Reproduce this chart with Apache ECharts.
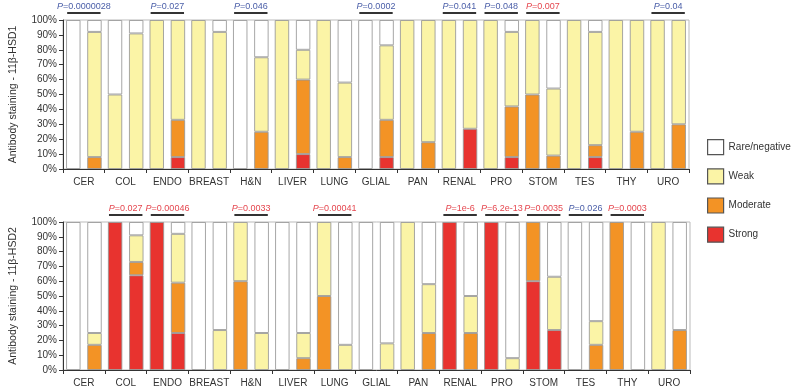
<!DOCTYPE html>
<html>
<head>
<meta charset="utf-8">
<script src="https://cdn.jsdelivr.net/npm/echarts@6/dist/echarts.min.js"></script>
<style>
html,body{margin:0;padding:0;background:#fff;}
#c{width:791px;height:388px;}
</style>
</head>
<body>
<div id="c"></div>
<script>
// ---------- DATA ----------
var categories = ['CER','COL','ENDO','BREAST','H&N','LIVER','LUNG','GLIAL','PAN','RENAL','PRO','STOM','TES','THY','URO'];
var yTicks = [0,10,20,30,40,50,60,70,80,90,100];

// 11β-HSD1 – first bar of each pair
var h1aStrong   = [0,0,0,0,0,0,0,0,0,0,0,0,0,0,0];
var h1aModerate = [0,0,0,0,0,0,0,0,0,0,0,50,0,0,0];
var h1aWeak     = [0,50,100,100,0,100,100,0,100,100,100,50,100,100,100];
var h1aRare     = [100,50,0,0,100,0,0,100,0,0,0,0,0,0,0];
// 11β-HSD1 – second bar of each pair
var h1bStrong   = [0,0,8,0,0,10,0,8,0,27,8,0,8,0,0];
var h1bModerate = [8,0,25,0,25,50,8,25,18,0,34,9,8,25,30];
var h1bWeak     = [84,91,67,92,50,20,50,50,82,73,50,45,76,75,70];
var h1bRare     = [8,9,0,8,25,20,42,17,0,0,8,46,8,0,0];

// 11β-HSD2 – first bar of each pair
var h2aStrong   = [0,100,100,0,0,0,0,0,0,100,100,60,0,0,0];
var h2aModerate = [0,0,0,0,60,0,50,0,0,0,0,40,0,100,0];
var h2aWeak     = [0,0,0,0,40,0,50,0,100,0,0,0,0,0,100];
var h2aRare     = [100,0,0,100,0,100,0,100,0,0,0,0,100,0,0];
// 11β-HSD2 – second bar of each pair
var h2bStrong   = [0,64,25,0,0,0,0,0,0,0,0,27,0,0,0];
var h2bModerate = [17,9,34,0,0,8,0,0,25,25,0,0,17,0,27];
var h2bWeak     = [8,18,33,27,25,17,17,18,33,25,8,36,16,0,0];
var h2bRare     = [75,9,8,73,75,75,83,82,42,50,92,37,67,100,73];

// P values (sign: '-' lower / '+' higher)
var p1Cats = ['CER','ENDO','H&N','GLIAL','RENAL','PRO','STOM','URO'];
var p1Text = ['0.0000028','0.027','0.046','0.0002','0.041','0.048','0.007','0.04'];
var p1Sign = ['-','-','-','-','-','-','+','-'];
var p2Cats = ['COL','ENDO','H&N','LUNG','RENAL','PRO','STOM','TES','THY'];
var p2Text = ['0.027','0.00046','0.0033','0.00041','1e-6','6.2e-13','0.0035','0.026','0.0003'];
var p2Sign = ['+','+','+','+','+','+','+','-','+'];

var levelNames = ['Rare/negative','Weak','Moderate','Strong'];

// ---------- STYLE ----------
var COLORS = {'Strong':'#e8332f','Moderate':'#f39325','Weak':'#fbf4a6','Rare/negative':'#ffffff'};
var SIGN_COLOR = {'-':'#4a5ea8','+':'#e5474f'};
var FONT = 'Liberation Sans, Arial, sans-serif';
var TXT = '#333';

function clean(arr){ return arr.map(function(v){ return v === 0 ? '-' : v; }); }

function barSeries(name, data, stack, idx){
  return {
    name: name, type: 'bar', stack: stack,
    xAxisIndex: idx, yAxisIndex: idx,
    data: clean(data),
    barWidth: 14.5, barGap: '46%',
    itemStyle: {color: COLORS[name], borderColor: 'rgba(150,150,150,0.85)', borderWidth: 1},
    emphasis: {disabled: true},
    animation: false
  };
}

function pSeries(cats, texts, signs, idx){
  var data = cats.map(function(c,i){ return [c, 100, texts[i], signs[i]]; });
  return {
    type: 'custom', xAxisIndex: idx, yAxisIndex: idx,
    data: data, clip: false, silent: true, animation: false,
    encode: {x: 0, y: 1},
    renderItem: function(params, api){
      var pt = api.coord([api.value(0), 100]);
      var bw = api.size([1, 0])[0];
      var d = data[params.dataIndex];
      var col = SIGN_COLOR[d[3]];
      var half = bw * 0.4;
      return {
        type: 'group',
        children: [
          {type: 'line', shape: {x1: pt[0]-half, y1: pt[1]-7, x2: pt[0]+half, y2: pt[1]-7},
           style: {stroke: '#333', lineWidth: 1.8}},
          {type: 'text', style: {
             text: '{i|P}=' + d[2], x: pt[0], y: pt[1]-13.5,
             align: 'center', verticalAlign: 'middle',
             fill: col, fontSize: 9, fontFamily: FONT,
             rich: {i: {fontStyle: 'italic', fill: col, fontSize: 9, fontFamily: FONT}}
          }}
        ]
      };
    }
  };
}

function xAxisCfg(idx){
  return {
    type: 'category', gridIndex: idx, data: categories,
    axisLine: {lineStyle: {color: '#333', width: 1}},
    axisTick: {show: true, length: 4, lineStyle: {color: '#333'}},
    axisLabel: {color: TXT, fontSize: 10, fontFamily: FONT, margin: 8, interval: 0}
  };
}
function yAxisCfg(idx, title){
  return {
    type: 'value', gridIndex: idx, min: 0, max: 100, interval: 10,
    name: title, nameLocation: 'middle', nameGap: 44, nameRotate: 90,
    nameTextStyle: {color: TXT, fontSize: 10.5, fontFamily: FONT},
    axisLine: {show: true, lineStyle: {color: '#333', width: 1}},
    axisTick: {show: true, length: 4, lineStyle: {color: '#333'}},
    axisLabel: {color: TXT, fontSize: 10, fontFamily: FONT, margin: 6,
      formatter: function(v){ return yTicks.indexOf(v) >= 0 ? v + '%' : ''; }},
    splitLine: {show: false}
  };
}

var series = [];
[
  [h1aStrong,h1aModerate,h1aWeak,h1aRare,'a0',0],
  [h1bStrong,h1bModerate,h1bWeak,h1bRare,'b0',0],
  [h2aStrong,h2aModerate,h2aWeak,h2aRare,'a1',1],
  [h2bStrong,h2bModerate,h2bWeak,h2bRare,'b1',1]
].forEach(function(g){
  series.push(barSeries('Strong', g[0], g[4], g[5]));
  series.push(barSeries('Moderate', g[1], g[4], g[5]));
  series.push(barSeries('Weak', g[2], g[4], g[5]));
  series.push(barSeries('Rare/negative', g[3], g[4], g[5]));
});
series.push(pSeries(p1Cats, p1Text, p1Sign, 0));
series.push(pSeries(p2Cats, p2Text, p2Sign, 1));

var chart = echarts.init(document.getElementById('c'), null, {renderer: 'canvas'});
chart.setOption({
  backgroundColor: '#fff',
  animation: false,
  textStyle: {fontFamily: FONT},
  grid: [
    {left: 52, top: 20, width: 637, height: 149, show: true, borderColor: '#bbb', borderWidth: 1, backgroundColor: 'transparent'},
    {left: 52, top: 222, width: 638, height: 148, show: true, borderColor: '#bbb', borderWidth: 1, backgroundColor: 'transparent'}
  ],
  xAxis: [xAxisCfg(0), xAxisCfg(1)],
  yAxis: [yAxisCfg(0, 'Antibody staining - 11β-HSD1'), yAxisCfg(1, 'Antibody staining - 11β-HSD2')],
  legend: {
    data: levelNames, orient: 'vertical', left: 707, top: 139, padding: 0,
    itemWidth: 16, itemHeight: 15, itemGap: 13, icon: 'rect',
    selectedMode: false,
    itemStyle: {borderColor: '#555', borderWidth: 1.2},
    textStyle: {color: TXT, fontSize: 10, fontFamily: FONT, overflow: 'none', width: 80}
  },
  series: series
});
</script>
</body>
</html>
